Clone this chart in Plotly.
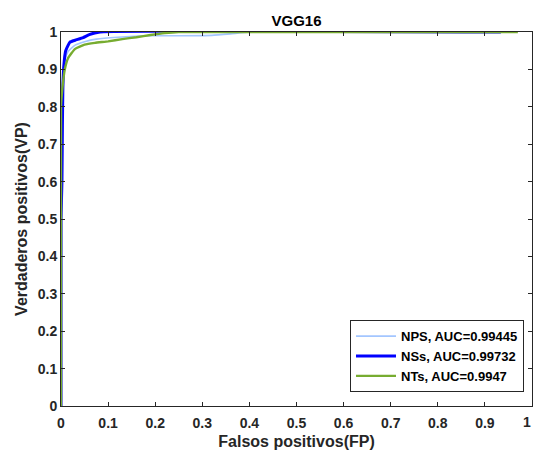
import plotly.graph_objects as go

# ROC curves for the three classes (false-positive rate vs true-positive rate)
nps_fp = [0.0, 0.002, 0.003, 0.005, 0.008, 0.015, 0.03, 0.05, 0.075, 0.12, 0.19, 0.25, 0.32, 0.36, 0.40, 0.934]
nps_vp = [0.0, 0.80, 0.86, 0.90, 0.925, 0.948, 0.965, 0.974, 0.981, 0.986, 0.990, 0.990, 0.991, 0.995, 1.0, 1.0]

nss_fp = [0.0, 0.0, 0.002, 0.003, 0.004, 0.006, 0.010, 0.019, 0.03, 0.047, 0.06, 0.083, 0.934]
nss_vp = [0.0, 0.50, 0.60, 0.75, 0.85, 0.91, 0.95, 0.973, 0.978, 0.985, 0.993, 1.0, 1.0]

nts_fp = [0.0, 0.0, 0.003, 0.008, 0.015, 0.03, 0.05, 0.072, 0.10, 0.13, 0.16, 0.19, 0.22, 0.25, 0.97]
nts_vp = [0.0, 0.80, 0.85, 0.90, 0.93, 0.955, 0.966, 0.971, 0.975, 0.981, 0.986, 0.992, 0.997, 1.0, 1.0]

series_names = ["NPS, AUC=0.99445", "NSs, AUC=0.99732", "NTs, AUC=0.9947"]
series_colors = ["#A3C6FF", "#0000FF", "#77AC30"]
series_widths = [1.6, 3.0, 2.4]

tick_vals = [0, 0.1, 0.2, 0.3, 0.4, 0.5, 0.6, 0.7, 0.8, 0.9, 1]
tick_text = ["0", "0.1", "0.2", "0.3", "0.4", "0.5", "0.6", "0.7", "0.8", "0.9", "1"]

fig = go.Figure()
for xs, ys, name, color, width in zip(
    [nps_fp, nss_fp, nts_fp], [nps_vp, nss_vp, nts_vp],
    series_names, series_colors, series_widths,
):
    fig.add_trace(go.Scatter(
        x=xs, y=ys, mode="lines", name=name,
        line=dict(color=color, width=width, shape="spline", smoothing=0.4),
        cliponaxis=False,
    ))

tick_font = dict(family="Liberation Sans", size=14, color="#262626", weight="bold")
title_font = dict(family="Liberation Sans", size=16, color="#262626", weight="bold")

axis_common = dict(
    range=[0, 1],
    tickvals=tick_vals,
    ticks="inside",
    ticklen=4,
    tickcolor="#262626",
    showline=True,
    linecolor="#262626",
    linewidth=1,
    mirror="ticks",
    showgrid=False,
    zeroline=False,
    tickfont=tick_font,
)

# The last x label sits on the figure edge; plotly drops edge labels, so the
# final one is written as an annotation at x=1, nudged to stay inside the page.
x_tick_text = tick_text[:-1] + [""]

fig.update_layout(
    width=534,
    height=450,
    margin=dict(l=61, r=2, t=32, b=44),
    paper_bgcolor="white",
    plot_bgcolor="white",
    title=dict(
        text="VGG16",
        x=(61 + 532) / 2 / 534,
        xanchor="center",
        y=1 - 21 / 450,
        yanchor="middle",
        font=dict(family="Liberation Sans", size=15, color="#000000", weight="bold"),
    ),
    xaxis=dict(
        axis_common,
        ticktext=x_tick_text,
        ticklabelstandoff=4,
        title=dict(text="Falsos positivos(FP)", standoff=6, font=title_font),
    ),
    yaxis=dict(
        axis_common,
        ticktext=tick_text,
        title=dict(text="Verdaderos positivos(VP)", standoff=6, font=title_font),
    ),
    legend=dict(
        x=0.983, xanchor="right",
        y=0.037, yanchor="bottom",
        bgcolor="white",
        bordercolor="#262626",
        borderwidth=1,
        itemwidth=40,
        font=dict(family="Liberation Sans", size=13, color="#000000", weight="bold"),
        tracegroupgap=0,
    ),
    annotations=[dict(
        x=tick_vals[-1], xref="x",
        y=0, yref="paper",
        text=tick_text[-1],
        showarrow=False,
        xanchor="right", yanchor="middle",
        xshift=1,
        yshift=-16,
        font=tick_font,
    )],
    showlegend=True,
)

fig.write_html("out.html")
